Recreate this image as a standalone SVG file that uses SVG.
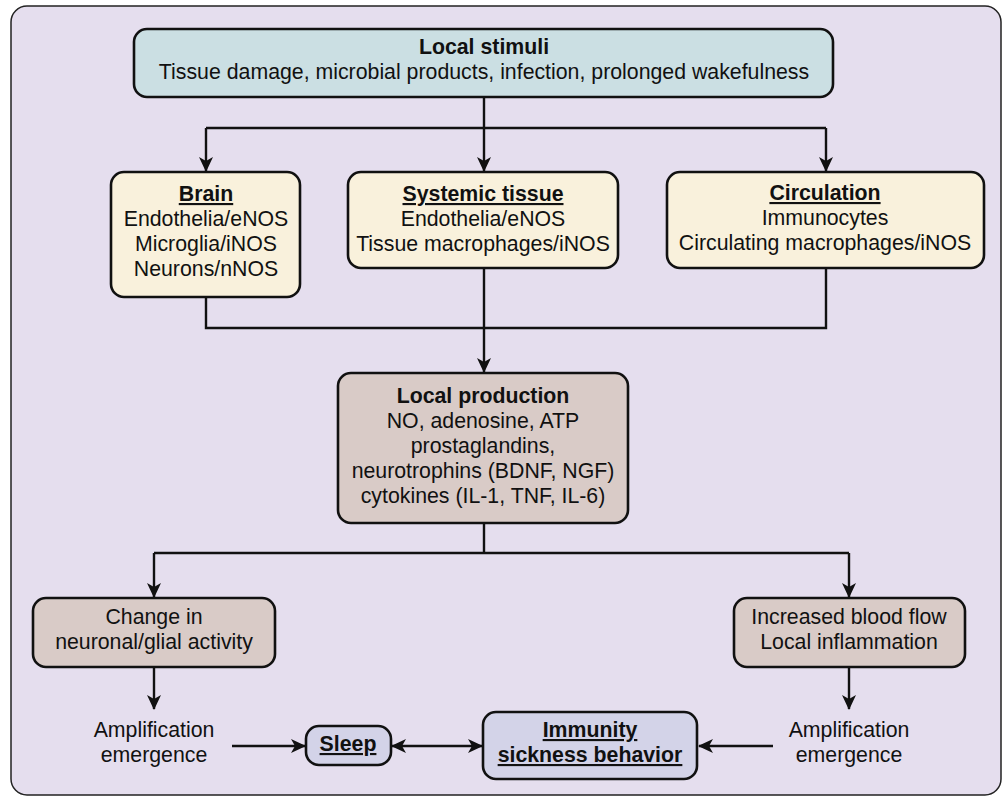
<svg xmlns="http://www.w3.org/2000/svg" width="1006" height="798" viewBox="0 0 1006 798">
<style>
text{font-family:"Liberation Sans",Arial,sans-serif;font-size:21.3px;fill:#111;text-anchor:middle}
.b{font-weight:bold}
.u{font-weight:bold;text-decoration:underline}
.box{stroke:#111;stroke-width:2.6}
.blue{fill:#cbdfe3}
.cream{fill:#f9f1dc}
.tan{fill:#d9cbc7}
.lav{fill:#d3d3e8}
.c{fill:none;stroke:#111;stroke-width:2.4}
</style>
<defs>
<marker id="ah" markerUnits="userSpaceOnUse" markerWidth="16" markerHeight="14" refX="14" refY="7" orient="auto-start-reverse">
<path d="M0,0 L15,7 L0,14 L4,7 z" fill="#111"/>
</marker>
</defs>
<rect x="11" y="6" width="990" height="789" rx="16" fill="#e5deee" stroke="#222" stroke-width="1.5"/>
<g id="connectors">
<path class="c" d="M484,97 V128 M206,128 H826"/>
<path class="c" d="M206,128 V171" marker-end="url(#ah)"/>
<path class="c" d="M484,128 V171" marker-end="url(#ah)"/>
<path class="c" d="M826,128 V171" marker-end="url(#ah)"/>
<path class="c" d="M206,297 V328 H826 V268 M484,268 V328"/>
<path class="c" d="M484,328 V372" marker-end="url(#ah)"/>
<path class="c" d="M484,523 V553 M154,553 H849"/>
<path class="c" d="M154,553 V597" marker-end="url(#ah)"/>
<path class="c" d="M849,553 V597" marker-end="url(#ah)"/>
<path class="c" d="M154,667 V709" marker-end="url(#ah)"/>
<path class="c" d="M849,667 V709" marker-end="url(#ah)"/>
<path class="c" d="M232,746 H305" marker-end="url(#ah)"/>
<path class="c" d="M392,746 H482" marker-start="url(#ah)" marker-end="url(#ah)"/>
<path class="c" d="M773,746 H699" marker-end="url(#ah)"/>
</g>
<g id="local-stimuli">
<rect class="box blue" x="134" y="29" width="699" height="68" rx="13"/>
<text class="b" x="484" y="54">Local stimuli</text>
<text x="484" y="79">Tissue damage, microbial products, infection, prolonged wakefulness</text>
</g>
<g id="brain">
<rect class="box cream" x="111" y="172" width="189" height="125" rx="13"/>
<text class="u" x="206" y="201">Brain</text>
<text x="206" y="226">Endothelia/eNOS</text>
<text x="206" y="251">Microglia/iNOS</text>
<text x="206" y="276">Neurons/nNOS</text>
</g>
<g id="systemic-tissue">
<rect class="box cream" x="348" y="172" width="270" height="96" rx="13"/>
<text class="u" x="483" y="201">Systemic tissue</text>
<text x="483" y="226">Endothelia/eNOS</text>
<text x="483" y="251">Tissue macrophages/iNOS</text>
</g>
<g id="circulation">
<rect class="box cream" x="667" y="172" width="317" height="96" rx="13"/>
<text class="u" x="825" y="200">Circulation</text>
<text x="825" y="225">Immunocytes</text>
<text x="825" y="250">Circulating macrophages/iNOS</text>
</g>
<g id="local-production">
<rect class="box tan" x="338" y="373" width="290" height="150" rx="13"/>
<text class="b" x="483" y="403">Local production</text>
<text x="483" y="428">NO, adenosine, ATP</text>
<text x="483" y="453">prostaglandins,</text>
<text x="483" y="478">neurotrophins (BDNF, NGF)</text>
<text x="483" y="503">cytokines (IL-1, TNF, IL-6)</text>
</g>
<g id="neuronal-change">
<rect class="box tan" x="33" y="598" width="242" height="69" rx="13"/>
<text x="154" y="624">Change in</text>
<text x="154" y="649">neuronal/glial activity</text>
</g>
<g id="blood-flow">
<rect class="box tan" x="734" y="598" width="231" height="69" rx="13"/>
<text x="849" y="624">Increased blood flow</text>
<text x="849" y="649">Local inflammation</text>
</g>
<g id="amplification-left">
<text x="154" y="737">Amplification</text>
<text x="154" y="762">emergence</text>
</g>
<g id="amplification-right">
<text x="849" y="737">Amplification</text>
<text x="849" y="762">emergence</text>
</g>
<g id="sleep">
<rect class="box lav" x="306" y="726" width="85" height="39" rx="13"/>
<text class="u" x="348" y="751">Sleep</text>
</g>
<g id="immunity">
<rect class="box lav" x="483" y="712" width="214" height="67" rx="13"/>
<text class="u" x="590" y="737">Immunity</text>
<text class="u" x="590" y="762">sickness behavior</text>
</g>
</svg>
